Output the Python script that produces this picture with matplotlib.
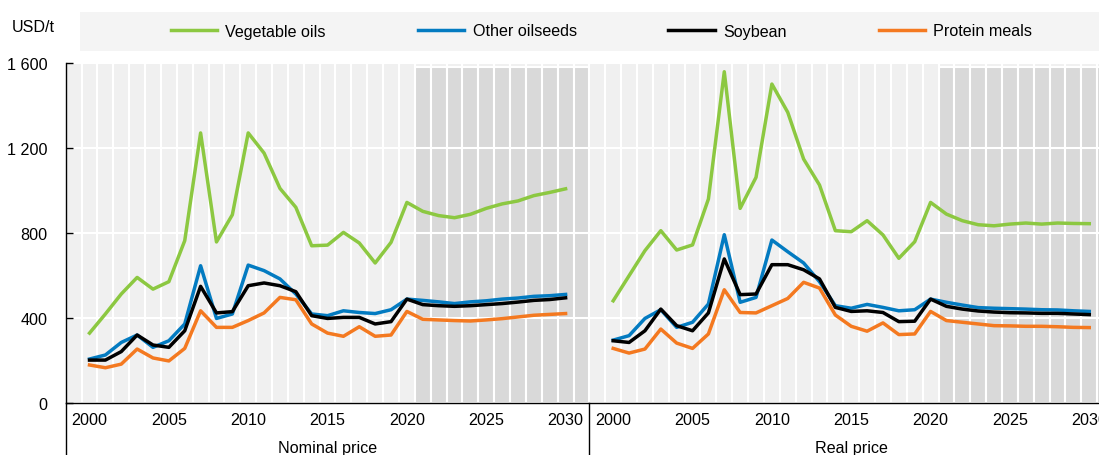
import numpy as np
import matplotlib
matplotlib.use("Agg")
import matplotlib.pyplot as plt
from matplotlib.patches import Rectangle

plt.rcParams['font.family'] = ['Liberation Sans Narrow', 'Liberation Sans', 'DejaVu Sans']
FS = 11.6

# Data (USD/t)
years = list(range(2000, 2031))

veg_nominal = [329, 419, 513, 591, 536, 571, 764, 1271, 758, 886, 1271, 1176, 1010, 921, 740,
               743, 803, 753, 659, 756, 944, 902, 882, 872, 888, 916, 937, 951, 976, 991, 1008]
oilseeds_nominal = [207, 226, 285, 320, 262, 293, 372, 646, 398, 419, 649, 623, 584, 513, 419,
                    411, 434, 426, 421, 439, 489, 483, 476, 468, 476, 481, 489, 494, 502, 505, 511]
soy_nominal = [202, 202, 242, 320, 273, 262, 340, 549, 424, 430, 552, 565, 552, 524, 411,
               398, 403, 403, 372, 383, 489, 463, 458, 455, 458, 463, 468, 475, 483, 487, 495]
meals_nominal = [179, 166, 183, 254, 212, 198, 257, 434, 356, 356, 388, 424, 497, 486, 372,
                 329, 314, 359, 314, 320, 431, 394, 391, 388, 386, 391, 397, 405, 413, 417, 421]

veg_real = [481, 599, 717, 811, 720, 744, 960, 1559, 916, 1062, 1501, 1368, 1148, 1026, 811,
            806, 858, 791, 681, 759, 944, 889, 858, 839, 834, 842, 847, 842, 847, 845, 844]
oilseeds_real = [296, 317, 398, 439, 356, 380, 466, 792, 474, 497, 767, 712, 659, 571, 458,
                 446, 464, 450, 434, 439, 489, 474, 461, 449, 446, 444, 442, 439, 438, 434, 431]
soy_real = [293, 285, 340, 442, 364, 340, 424, 678, 510, 513, 651, 651, 627, 584, 450,
            431, 434, 426, 383, 385, 489, 455, 442, 433, 428, 425, 424, 422, 422, 419, 416]
meals_real = [257, 235, 254, 348, 282, 257, 325, 533, 426, 424, 458, 492, 568, 541, 414,
              361, 338, 377, 322, 325, 431, 388, 380, 372, 364, 363, 361, 361, 359, 356, 355]

series_names = ["Vegetable oils", "Other oilseeds", "Soybean", "Protein meals"]
series_colors = ["#8cc841", "#037bc1", "#000000", "#f47920"]
nominal = [veg_nominal, oilseeds_nominal, soy_nominal, meals_nominal]
real = [veg_real, oilseeds_real, soy_real, meals_real]
groups = ["Nominal price", "Real price"]

# category layout: blank, 2000..2030, blank | blank, 2000..2030, blank
x_nom = np.arange(1, 32)
x_real = np.arange(34, 65)
n_cat = 66

fig = plt.figure(figsize=(10.99, 4.56), dpi=100)
ax = fig.add_axes([0.0598, 0.114, 0.953, 0.7456])

# background columns, darker for the projection years
cats = np.arange(n_cat)
proj = ((cats >= 22) & (cats <= 32)) | (cats >= 55)
ax.bar(cats, 1600, width=1, color="#f0f0f0", edgecolor="white", linewidth=1.5, zorder=0)
ax.bar(cats[proj], 1580, width=1, color="#d9d9d9", edgecolor="white", linewidth=1.5, zorder=0.5)
for y in [400, 800, 1200]:
    ax.axhline(y, color="white", lw=1.5, zorder=1)

lines = []
for vals_n, vals_r, name, col in zip(nominal, real, series_names, series_colors):
    ln, = ax.plot(x_nom, vals_n, color=col, lw=2.5, label=name, zorder=3)
    ax.plot(x_real, vals_r, color=col, lw=2.5, zorder=3)
    lines.append(ln)

ax.set_xlim(-0.5, n_cat - 0.5)
ax.set_ylim(0, 1600)
ax.set_yticks([0, 400, 800, 1200, 1600])
ax.set_yticklabels(["0", "400", "800", "1 200", "1 600"])
ax.tick_params(axis="y", direction="in", length=5, width=1, pad=13, labelsize=FS)

tick_years = [2000, 2005, 2010, 2015, 2020, 2025, 2030]
xt = [x_nom[years.index(y)] for y in tick_years] + [x_real[years.index(y)] for y in tick_years]
ax.set_xticks(xt)
ax.set_xticklabels([str(y) for y in tick_years] * 2)
ax.tick_params(axis="x", length=0, pad=6.5, labelsize=FS)

for s in ["top", "right"]:
    ax.spines[s].set_visible(False)
ax.spines["left"].set_linewidth(1)
ax.spines["bottom"].set_linewidth(1)

# group separators and labels below the axis
for xs in [-0.5, 32.5]:
    ax.plot([xs, xs], [0, -260], color="black", lw=1, clip_on=False, zorder=4)
ax.text(x_nom[15], -207, groups[0], ha="center", va="center", fontsize=FS)
ax.text(x_real[15], -207, groups[1], ha="center", va="center", fontsize=FS)

# legend band
fig.add_artist(Rectangle((80 / 1099, 1 - 52 / 456), 1.0, 39 / 456, transform=fig.transFigure,
                         facecolor="#f4f4f4", edgecolor="none", zorder=0))
fig.legend(handles=lines, labels=series_names, loc="center", bbox_to_anchor=(601.5 / 1099, 1 - 32 / 456),
           ncol=4, frameon=False, borderpad=0, handlelength=2.9, handletextpad=0.5,
           columnspacing=5.7, fontsize=FS)

fig.text(12 / 1099, 1 - 28 / 456, "USD/t", ha="left", va="center", fontsize=FS)

fig.savefig("out.png", dpi=100)
